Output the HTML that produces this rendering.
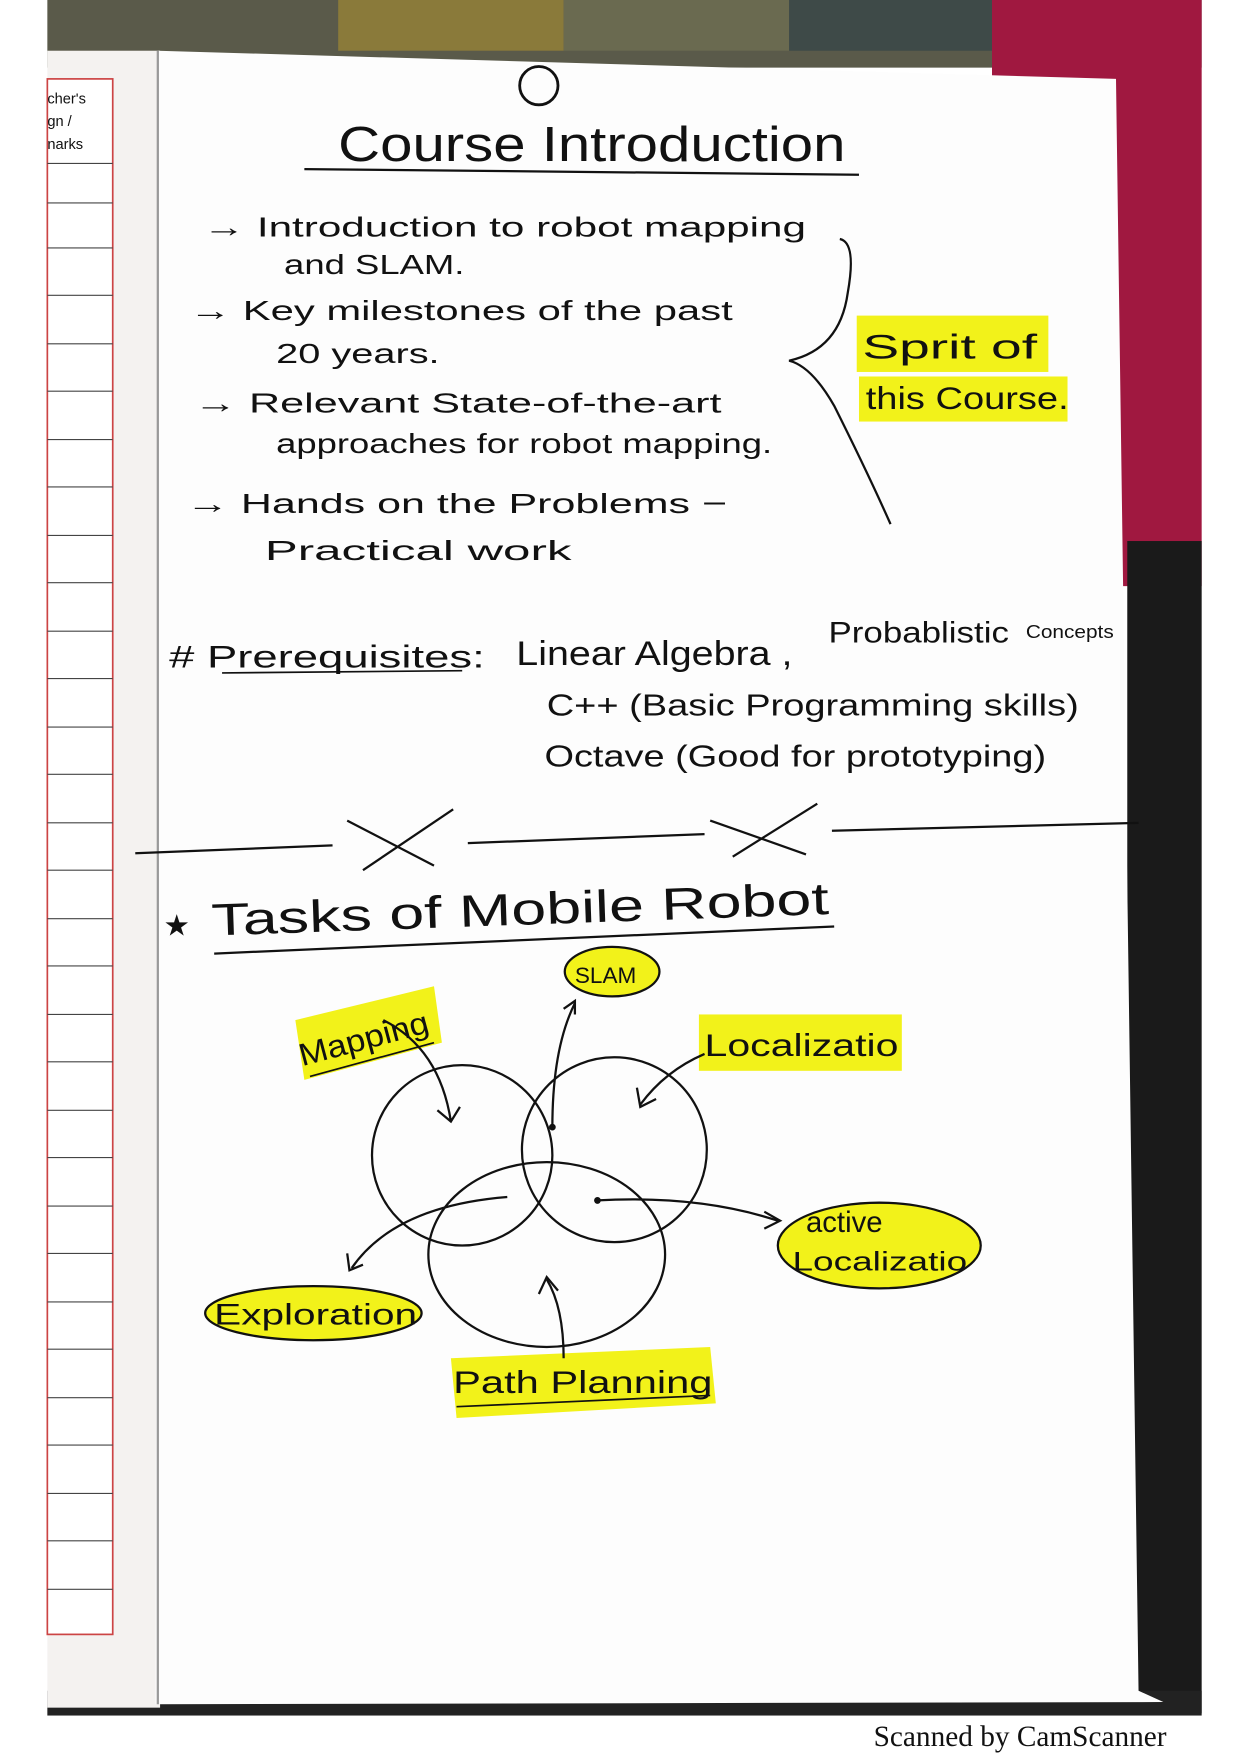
<!DOCTYPE html>
<html><head><meta charset="utf-8"><style>
html,body{margin:0;padding:0;background:#fff;}
svg{display:block;}
text{font-family:"Liberation Sans",sans-serif;fill:#111;}
</style></head><body>
<svg width="1240" height="1755" viewBox="0 0 1100 1557" preserveAspectRatio="none" xmlns="http://www.w3.org/2000/svg">
<rect x="0" y="0" width="1100" height="1557" fill="#fff"/>
<rect x="42" y="0" width="1024" height="60" fill="#5a5a4a"/>
<rect x="300" y="0" width="200" height="45" fill="#8a7a3a"/>
<rect x="500" y="0" width="200" height="45" fill="#6a6a50"/>
<rect x="700" y="0" width="180" height="45" fill="#3e4a48"/>
<rect x="880" y="0" width="186" height="520" fill="#a01840"/>
<rect x="1000" y="480" width="66" height="1040" fill="#1a1a1a"/>
<rect x="42" y="1500" width="1024" height="22" fill="#222"/>
<rect x="42" y="45" width="100" height="1470" fill="#f4f2f0"/>
<rect x="42" y="70" width="58" height="1380" fill="#fff" stroke="#c44" stroke-width="1.5"/>
<text x="42" y="92" font-size="13">cher's</text>
<text x="42" y="112" font-size="13">gn /</text>
<text x="42" y="132" font-size="13">narks</text>
<g stroke="#444" stroke-width="1">
<line x1="42" y1="145" x2="100" y2="145"/><line x1="42" y1="180" x2="100" y2="180"/><line x1="42" y1="220" x2="100" y2="220"/><line x1="42" y1="262" x2="100" y2="262"/><line x1="42" y1="305" x2="100" y2="305"/><line x1="42" y1="347" x2="100" y2="347"/><line x1="42" y1="390" x2="100" y2="390"/><line x1="42" y1="432" x2="100" y2="432"/><line x1="42" y1="475" x2="100" y2="475"/><line x1="42" y1="517" x2="100" y2="517"/><line x1="42" y1="560" x2="100" y2="560"/><line x1="42" y1="602" x2="100" y2="602"/><line x1="42" y1="645" x2="100" y2="645"/><line x1="42" y1="687" x2="100" y2="687"/><line x1="42" y1="730" x2="100" y2="730"/><line x1="42" y1="772" x2="100" y2="772"/><line x1="42" y1="815" x2="100" y2="815"/><line x1="42" y1="857" x2="100" y2="857"/><line x1="42" y1="900" x2="100" y2="900"/><line x1="42" y1="942" x2="100" y2="942"/><line x1="42" y1="985" x2="100" y2="985"/><line x1="42" y1="1027" x2="100" y2="1027"/><line x1="42" y1="1070" x2="100" y2="1070"/><line x1="42" y1="1112" x2="100" y2="1112"/><line x1="42" y1="1155" x2="100" y2="1155"/><line x1="42" y1="1197" x2="100" y2="1197"/><line x1="42" y1="1240" x2="100" y2="1240"/><line x1="42" y1="1282" x2="100" y2="1282"/><line x1="42" y1="1325" x2="100" y2="1325"/><line x1="42" y1="1367" x2="100" y2="1367"/><line x1="42" y1="1410" x2="100" y2="1410"/>
</g>
<polygon points="140,45 990,70 1010,1500 1032,1510 138,1512" fill="#fdfdfd"/>
<line x1="140" y1="45" x2="140" y2="1512" stroke="#999" stroke-width="2"/>
<circle cx="478" cy="76" r="17" fill="none" stroke="#111" stroke-width="2.5"/>
<text x="300" y="143" font-size="44" textLength="450" lengthAdjust="spacingAndGlyphs">Course Introduction</text>
<line x1="270" y1="150" x2="762" y2="155" stroke="#111" stroke-width="2"/>
<g font-size="25">
<text x="180" y="210" textLength="535" lengthAdjust="spacingAndGlyphs">→ Introduction to robot mapping</text>
<text x="252" y="243" textLength="160" lengthAdjust="spacingAndGlyphs">and SLAM.</text>
<text x="168" y="284" textLength="482" lengthAdjust="spacingAndGlyphs">→ Key milestones of the past</text>
<text x="245" y="322" textLength="145" lengthAdjust="spacingAndGlyphs">20 years.</text>
<text x="172" y="366" textLength="468" lengthAdjust="spacingAndGlyphs">→ Relevant State-of-the-art</text>
<text x="245" y="402" textLength="440" lengthAdjust="spacingAndGlyphs">approaches for robot mapping.</text>
<text x="165" y="455" textLength="480" lengthAdjust="spacingAndGlyphs">→ Hands on the Problems −</text>
<text x="235" y="497" textLength="272" lengthAdjust="spacingAndGlyphs">Practical work</text>
</g>
<path d="M745,212 Q760,215 752,260 Q745,310 700,320 Q720,325 740,360 Q770,420 790,465" fill="none" stroke="#111" stroke-width="2"/>
<rect x="760" y="280" width="170" height="50" fill="#f2f21a"/>
<rect x="762" y="334" width="185" height="40" fill="#f2f21a"/>
<text x="765" y="318" font-size="30" textLength="155" lengthAdjust="spacingAndGlyphs">Sprit of</text>
<text x="768" y="363" font-size="28" textLength="180" lengthAdjust="spacingAndGlyphs">this Course.</text>
<text x="150" y="592" font-size="28" textLength="280" lengthAdjust="spacingAndGlyphs"># Prerequisites:</text>
<line x1="197" y1="597" x2="410" y2="595" stroke="#111" stroke-width="1.5"/>
<text x="458" y="590" font-size="30" textLength="245" lengthAdjust="spacingAndGlyphs">Linear Algebra ,</text>
<text x="735" y="570" font-size="26" textLength="160" lengthAdjust="spacingAndGlyphs">Probablistic</text>
<text x="910" y="566" font-size="16" textLength="78" lengthAdjust="spacingAndGlyphs">Concepts</text>
<text x="485" y="635" font-size="27" textLength="472" lengthAdjust="spacingAndGlyphs">C++ (Basic Programming skills)</text>
<text x="483" y="680" font-size="27" textLength="445" lengthAdjust="spacingAndGlyphs">Octave (Good for prototyping)</text>
<g stroke="#111" stroke-width="2">
<line x1="120" y1="757" x2="295" y2="750"/>
<line x1="308" y1="728" x2="385" y2="768"/><line x1="322" y1="772" x2="402" y2="718"/>
<line x1="415" y1="748" x2="625" y2="740"/>
<line x1="630" y1="728" x2="715" y2="758"/><line x1="650" y1="760" x2="725" y2="713"/>
<line x1="738" y1="737" x2="1010" y2="730"/>
</g>
<text x="145" y="830" font-size="26">★</text>
<text x="188" y="830" font-size="40" textLength="548" lengthAdjust="spacingAndGlyphs" transform="rotate(-2 188 830)">Tasks  of  Mobile  Robot</text>
<line x1="190" y1="846" x2="740" y2="822" stroke="#111" stroke-width="2"/>
<ellipse cx="543" cy="862" rx="42" ry="22" fill="#f2f21a" stroke="#111" stroke-width="2"/>
<text x="510" y="872" font-size="20">SLAM</text>
<polygon points="262,905 385,875 392,925 270,958" fill="#f2f21a"/>
<text x="268" y="946" font-size="28" transform="rotate(-15 268 946)" textLength="118" lengthAdjust="spacingAndGlyphs">Mapping</text>
<line x1="275" y1="955" x2="385" y2="925" stroke="#111" stroke-width="1.5"/>
<rect x="620" y="900" width="180" height="50" fill="#f2f21a"/>
<text x="625" y="937" font-size="28" textLength="172" lengthAdjust="spacingAndGlyphs">Localizatio</text>
<ellipse cx="780" cy="1105" rx="90" ry="38" fill="#f2f21a" stroke="#111" stroke-width="2"/>
<text x="715" y="1093" font-size="26">active</text>
<text x="703" y="1127" font-size="24" textLength="155" lengthAdjust="spacingAndGlyphs">Localizatio</text>
<ellipse cx="278" cy="1165" rx="96" ry="24" fill="#f2f21a" stroke="#111" stroke-width="2"/>
<text x="190" y="1175" font-size="26" textLength="180" lengthAdjust="spacingAndGlyphs">Exploration</text>
<polygon points="400,1205 630,1195 635,1245 405,1258" fill="#f2f21a"/>
<text x="402" y="1236" font-size="28" textLength="230" lengthAdjust="spacingAndGlyphs">Path Planning</text>
<line x1="405" y1="1248" x2="630" y2="1238" stroke="#111" stroke-width="1.5"/>
<g fill="none" stroke="#111" stroke-width="2">
<circle cx="410" cy="1025" r="80"/>
<circle cx="545" cy="1020" r="82"/>
<ellipse cx="485" cy="1113" rx="105" ry="82"/>
<path d="M340,905 Q390,930 400,995"/><path d="M388,985 L400,995 L408,982"/>
<path d="M625,935 Q590,950 568,980"/><path d="M565,965 L568,982 L582,975"/>
<path d="M490,1000 Q490,930 510,890"/><path d="M500,895 L510,888 L510,900"/>
<path d="M530,1065 Q620,1060 690,1083"/><path d="M678,1075 L692,1083 L678,1090"/>
<path d="M450,1062 Q350,1070 312,1125"/><path d="M308,1112 L310,1127 L322,1122"/>
<path d="M500,1205 Q500,1160 485,1135"/><path d="M478,1148 L485,1133 L495,1145"/>
</g>
<circle cx="490" cy="1000" r="3" fill="#111"/>
<circle cx="530" cy="1065" r="3" fill="#111"/>
<text x="775" y="1549" font-size="26" style="font-family:'Liberation Serif',serif">Scanned by CamScanner</text>
</svg>
</body></html>
